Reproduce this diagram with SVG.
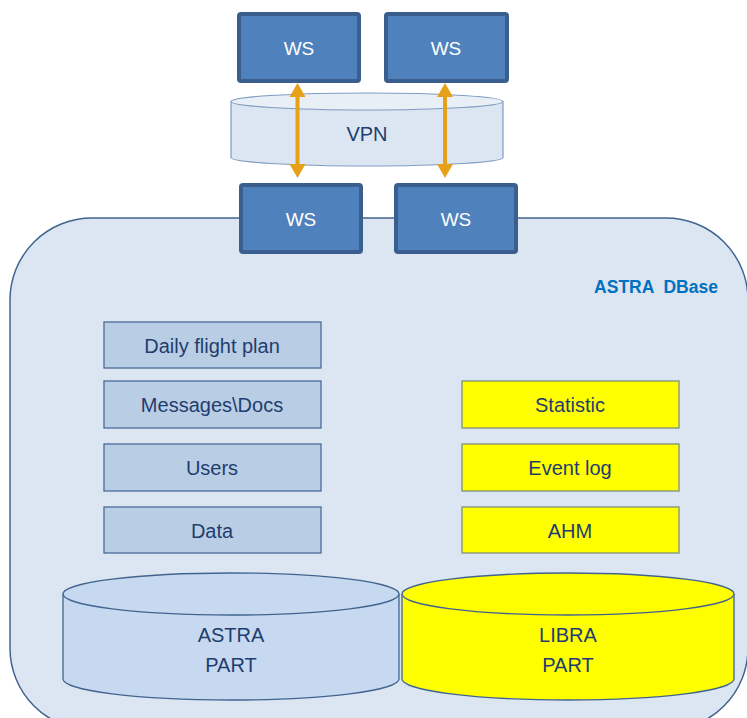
<svg xmlns="http://www.w3.org/2000/svg" width="747" height="718" viewBox="0 0 747 718">
<style>
.t{font-family:"Liberation Sans",Arial,sans-serif;font-size:20px;fill:#1f3d6e;text-anchor:middle}
.w{font-family:"Liberation Sans",Arial,sans-serif;font-size:19px;fill:#ffffff;text-anchor:middle}
.ws{fill:#4f81bd;stroke:#3a5f8e;stroke-width:4}
.lb{fill:#b9cde5;stroke:#4a6c98;stroke-width:1.3}
.yb{fill:#ffff00;stroke:#7f8f7a;stroke-width:1.3}
.cyl{stroke:#41648f;stroke-width:1.3}
.arr{stroke:#e6a118;stroke-width:4;fill:none}
.ah{fill:#e6a118}
</style>
<rect width="747" height="718" fill="#ffffff"/>
<g id="dbase">
<rect x="10" y="218" width="738" height="512" rx="82" ry="82" fill="#dce6f2" stroke="#41648f" stroke-width="1.5"/>
<text x="656" y="293" font-family="Liberation Sans,Arial,sans-serif" font-size="17.5" font-weight="bold" fill="#0070c0" text-anchor="middle" xml:space="preserve">ASTRA  DBase</text>
</g>
<g id="vpn">
<path d="M231,101.5 V157.5 A136,8.5 0 0 0 503,157.5 V101.5" fill="#dce6f2" stroke="#7f9cc0" stroke-width="1.2"/>
<ellipse cx="367" cy="101.5" rx="136" ry="8.5" fill="#e9eff7" stroke="#7f9cc0" stroke-width="1.2"/>
<text class="t" x="367" y="141">VPN</text>
</g>
<g id="ws1"><rect class="ws" x="239" y="14" width="120" height="67" rx="2"/><text class="w" x="299" y="55">WS</text></g>
<g id="ws2"><rect class="ws" x="386" y="14" width="121" height="67" rx="2"/><text class="w" x="446" y="55">WS</text></g>
<g id="ws3"><rect class="ws" x="241" y="185" width="120" height="67" rx="2"/><text class="w" x="301" y="226">WS</text></g>
<g id="ws4"><rect class="ws" x="396" y="185" width="120" height="67" rx="2"/><text class="w" x="456" y="226">WS</text></g>
<g id="connectors">
<line class="arr" x1="297.5" y1="94" x2="297.5" y2="166"/>
<polygon class="ah" points="297.5,83 289.5,97 305.5,97"/>
<polygon class="ah" points="297.5,178 289.5,164 305.5,164"/>
<line class="arr" x1="445" y1="94" x2="445" y2="166"/>
<polygon class="ah" points="445,83 437,97 453,97"/>
<polygon class="ah" points="445,178 437,164 453,164"/>
</g>
<g id="daily"><rect class="lb" x="104" y="322" width="217" height="46"/><text class="t" x="212" y="353">Daily flight plan</text></g>
<g id="messages"><rect class="lb" x="104" y="381" width="217" height="47"/><text class="t" x="212" y="412">Messages\Docs</text></g>
<g id="users"><rect class="lb" x="104" y="444" width="217" height="47"/><text class="t" x="212" y="475">Users</text></g>
<g id="data"><rect class="lb" x="104" y="507" width="217" height="46"/><text class="t" x="212" y="538">Data</text></g>
<g id="statistic"><rect class="yb" x="462" y="381" width="217" height="47"/><text class="t" x="570" y="412">Statistic</text></g>
<g id="eventlog"><rect class="yb" x="462" y="444" width="217" height="47"/><text class="t" x="570" y="475">Event log</text></g>
<g id="ahm"><rect class="yb" x="462" y="507" width="217" height="46"/><text class="t" x="570" y="538">AHM</text></g>
<g id="astra">
<path class="cyl" d="M63,594 V679 A168,21 0 0 0 399,679 V594" fill="#c6d9f0"/>
<ellipse class="cyl" cx="231" cy="594" rx="168" ry="21" fill="#c6d9f0"/>
<text class="t" x="231" y="642">ASTRA</text>
<text class="t" x="231" y="672">PART</text>
</g>
<g id="libra">
<path class="cyl" d="M402,594 V679 A166,21 0 0 0 734,679 V594" fill="#ffff00"/>
<ellipse class="cyl" cx="568" cy="594" rx="166" ry="21" fill="#ffff00"/>
<text class="t" x="568" y="642">LIBRA</text>
<text class="t" x="568" y="672">PART</text>
</g>
</svg>
